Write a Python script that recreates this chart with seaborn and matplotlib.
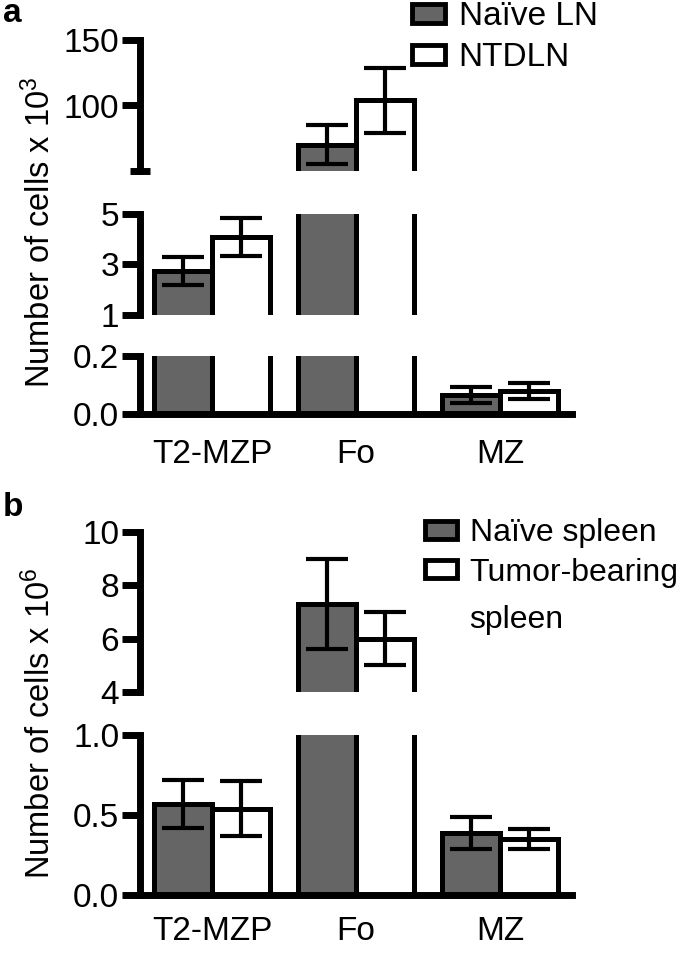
import pandas as pd
import matplotlib.pyplot as plt
import seaborn as sns

# ---- data ----
categories = ["T2-MZP", "Fo", "MZ"]

# panel a: lymph nodes, cells x 10^3
ln_groups = ["Naïve LN", "NTDLN"]
ln_naive = [2.75, 70, 0.065]
ln_naive_err = [0.55, 15, 0.028]
ln_ntdln = [4.1, 104, 0.08]
ln_ntdln_err = [0.75, 25, 0.027]

# panel b: spleen, cells x 10^6
sp_groups = ["Naïve spleen", "Tumor-bearing"]
sp_naive = [0.57, 7.3, 0.39]
sp_naive_err = [0.15, 1.7, 0.10]
sp_tumor = [0.54, 6.0, 0.35]
sp_tumor_err = [0.17, 1.0, 0.06]

# broken y axis segments (top to bottom)
ln_limits = [(50, 150), (1, 5), (0, 0.2)]
ln_ticks = [[100, 150], [1, 3, 5], [0.0, 0.2]]
ln_ticklabels = [["100", "150"], ["1", "3", "5"], ["0.0", "0.2"]]
sp_limits = [(4, 10), (0, 1.0)]
sp_ticks = [[4, 6, 8, 10], [0.0, 0.5, 1.0]]
sp_ticklabels = [["4", "6", "8", "10"], ["0.0", "0.5", "1.0"]]

GREY = "#656565"
FS = 24

sns.set_style("white")
plt.rcParams["font.family"] = ["Liberation Sans", "DejaVu Sans"]
plt.rcParams["mathtext.fontset"] = "custom"
plt.rcParams["mathtext.rm"] = "Liberation Sans"
plt.rcParams["mathtext.it"] = "Liberation Sans"
plt.rcParams["text.color"] = "black"
plt.rcParams["xtick.color"] = "black"
plt.rcParams["ytick.color"] = "black"
plt.rcParams["axes.edgecolor"] = "black"

fig = plt.figure(figsize=(6.85, 9.55), dpi=100)
W, H = 685.0, 955.0


def make_df(groups, a, b):
    return pd.DataFrame({
        "cell": categories * 2,
        "group": [groups[0]] * 3 + [groups[1]] * 3,
        "value": a + b,
    })


def draw_panel(df, errs, limits, ticks, ticklabels, boxes, groups, legend_pos, xpad, legend_fs):
    axes = []
    n = len(limits)
    for i, ((lo, hi), tk, tl, (ytop, ybot)) in enumerate(zip(limits, ticks, ticklabels, boxes)):
        ax = fig.add_axes([140 / W, 1 - ybot / H, 432 / W, (ybot - ytop) / H])
        sns.barplot(data=df, x="cell", y="value", hue="group", hue_order=groups,
                    order=categories, palette=[GREY, "white"], saturation=1,
                    edgecolor="black", linewidth=3.6, errorbar=None,
                    legend=(i == 0), ax=ax)
        # error bars at the bar centres that seaborn placed
        bars = [p for c in ax.containers for p in c]
        xs = [p.get_x() + p.get_width() / 2 for p in bars]
        ys = [p.get_height() for p in bars]
        ax.errorbar(xs, ys, yerr=errs, fmt="none", ecolor="black",
                    elinewidth=3, capsize=15, capthick=3, zorder=5)
        ax.set_ylim(lo, hi)
        ax.set_xlim(-0.5, 2.5)
        ax.set_yticks(tk)
        ax.set_yticklabels(tl)
        ax.set_ylabel("")
        ax.set_xlabel("")
        for s in ["top", "right"]:
            ax.spines[s].set_visible(False)
        ax.spines["left"].set_linewidth(5)
        ax.tick_params(axis="y", which="major", left=True, direction="out", length=13,
                       width=5, labelsize=FS, pad=2, colors="black")
        # break marks at the cut ends
        breaks = []
        if i > 0:
            breaks.append(hi)
        if i < n - 1:
            breaks.append(lo)
        ax.set_yticks(breaks, minor=True)
        ax.tick_params(axis="y", which="minor", left=True, direction="inout",
                       length=14, width=5, colors="black")
        if i == n - 1:
            ax.spines["bottom"].set_linewidth(5)
            ax.tick_params(axis="x", length=0, labelsize=FS, pad=xpad, colors="black")
        else:
            ax.spines["bottom"].set_visible(False)
            ax.set_xticks([])
        ax.patch.set_alpha(0)
        axes.append(ax)

    ax0 = axes[0]
    leg = ax0.get_legend()
    handles = leg.legend_handles
    labels = [t.get_text() for t in leg.get_texts()]
    leg.remove()
    for h in handles:
        h.set_edgecolor("black")
        h.set_linewidth(3.5)
    ax0.legend(handles, labels, loc="upper left", bbox_to_anchor=legend_pos,
               bbox_transform=fig.transFigure, frameon=False, fontsize=legend_fs,
               handlelength=1.0, handleheight=0.5, handletextpad=0.4,
               labelspacing=0.3, borderaxespad=0, borderpad=0)
    return axes


df_a = make_df(ln_groups, ln_naive, ln_ntdln)
draw_panel(df_a, ln_naive_err + ln_ntdln_err, ln_limits, ln_ticks, ln_ticklabels,
           [(40, 171), (214, 315), (356, 414)], ln_groups,
           (412 / W, 1 - 1 / H), 18, FS)

df_b = make_df(sp_groups, sp_naive, sp_tumor)
draw_panel(df_b, sp_naive_err + sp_tumor_err, sp_limits, sp_ticks, sp_ticklabels,
           [(532, 692), (735, 895)], sp_groups,
           (425 / W, 1 - 518 / H), 15, 23)
# second line of the "Tumor-bearing spleen" legend label
fig.text(469 / W, 1 - 620 / H, "spleen", fontsize=23, ha="left", va="center")

fig.text(40 / W, 1 - 232 / H, "Number of cells x 10$^{3}$", rotation=90,
         ha="center", va="center", fontsize=23.5)
fig.text(40 / W, 1 - 723 / H, "Number of cells x 10$^{6}$", rotation=90,
         ha="center", va="center", fontsize=23.5)
fig.text(3 / W, 1 - 14 / H, "a", fontsize=24, fontweight="bold", ha="left", va="center")
fig.text(3 / W, 1 - 508 / H, "b", fontsize=24, fontweight="bold", ha="left", va="center")

plt.savefig("out.png", dpi=100)
